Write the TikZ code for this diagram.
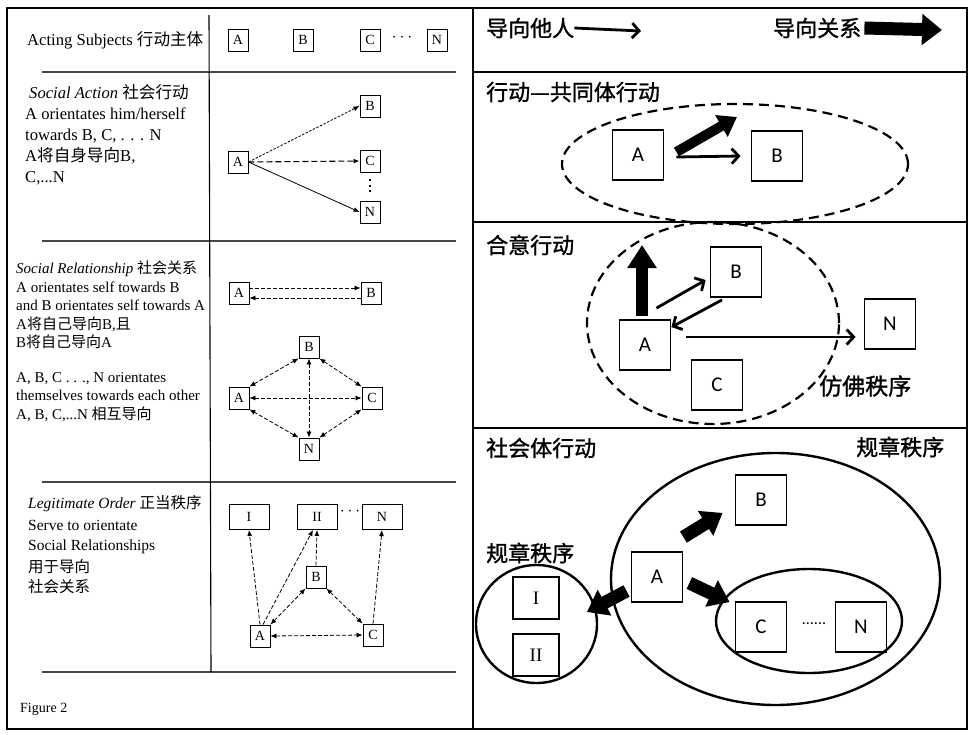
\documentclass[tikz,border=0pt]{standalone}
\usepackage{fontspec}
\setmainfont{Liberation Serif}
\newfontfamily\cjk{Noto Sans CJK SC}
\newfontfamily\cjkb[FakeBold=1.2]{Noto Sans CJK SC}
\newfontfamily\cali{Carlito}
\usetikzlibrary{arrows.meta}

\tikzset{
  lbox/.style={draw,line width=0.9pt,minimum width=20pt,minimum height=22pt,inner sep=0pt,
    font=\fontsize{14}{14}\selectfont},
  wbox/.style={lbox,minimum width=40pt,minimum height=25pt},
  rbox/.style={draw,line width=1.8pt,minimum width=51pt,minimum height=50pt,inner sep=0pt,
    font=\cali\fontsize{21}{21}\selectfont},
  nbox/.style={rbox,minimum width=46pt,minimum height=42pt,font=\fontsize{19}{19}\selectfont},
  ltext/.style={anchor=north west,inner sep=0pt,align=left,font=\fontsize{15.5}{20}\selectfont},
  rtext/.style={anchor=west,inner sep=0pt,font=\cjkb\fontsize{22}{22}\selectfont},
  ddots/.style={inner sep=0pt,font=\fontsize{18}{18}\selectfont},
  darr/.style={line width=0.8pt,dash pattern=on 4pt off 2pt,-{Latex[length=6pt,width=5pt]}},
  dbarr/.style={darr,{Latex[length=6pt,width=5pt]}-{Latex[length=6pt,width=5pt]}},
  tharr/.style={line width=2.8pt,-{Straight Barb[length=7pt,width=15pt]}},
  fatarr/.style={line width=11pt,-{Triangle[length=20pt,width=28pt]}},
  gline/.style={gray!55!black,line width=1.4pt},
  dring/.style={line width=2.2pt,dash pattern=on 10pt off 6pt},
  ring/.style={line width=2.4pt},
}

\begin{document}
\begin{tikzpicture}[x=1pt,y=-1pt]
\fill[white] (0,0) rectangle (974,734);
\useasboundingbox (0,0) rectangle (974,734);

% Çerçeve
\draw[line width=2pt] (7,8) rectangle (967,729);
\draw[line width=2pt] (473,8) -- (473,729);
\draw[line width=1.6pt] (473,72) -- (967,72) (473,222) -- (967,222) (473,428) -- (967,428);

% Sol panel: çizgiler
\draw[gline] (42,72) -- (456,72) (42,241) -- (456,241) (42,482) -- (456,482) (42,672) -- (456,672);
\draw[line width=1.1pt] (209,15) -- (211,672);

% Acting Subjects
\node[ltext,anchor=west,font=\fontsize{16.6}{20}\selectfont] (tHead) at (27,40) {Acting Subjects {\cjk 行动主体}};
\node[lbox] (hA) at (238,40) {A};
\node[lbox] (hB) at (303,40) {B};
\node[lbox] (hC) at (370,40) {C};
\node[ddots] (hDots) at (402,38) {$\cdots$};
\node[lbox] (hN) at (437,40) {N};

% Social Action
\node[ltext,font=\fontsize{16.6}{21}\selectfont] (tSA) at (25,84) {\hspace*{4pt}\textit{Social Action} {\cjk 社会行动}\\
A orientates him/herself\\ towards B, C, . . . N\\ A{\cjk 将自身导向}B,\\ C,...N};
\node[lbox] (saA) at (238,162) {A};
\node[lbox] (saB) at (370,106) {B};
\node[lbox] (saC) at (370,161) {C};
\node[lbox] (saN) at (370,212) {N};
\draw[darr,dash pattern=on 2.5pt off 1.5pt] (saA.east) -- (saB.west);
\draw[darr,line width=1.1pt,dash pattern=on 6pt off 3pt] (saA.east) -- (saC.west);
\draw[darr,solid] (saA.east) -- (saN.west);
\draw[line width=1.8pt,dash pattern=on 1.8pt off 3.6pt] ([yshift=-7pt]saC.south) -- ([yshift=5pt]saN.north);

% Social Relationship
\node[ltext,font=\fontsize{15}{18.5}\selectfont] (tSR) at (16,261) {\textit{Social Relationship} {\cjk 社会关系}\\
A orientates self towards B\\ and B orientates self towards A\\ A{\cjk 将自己导向}B,{\cjk 且}\\ B{\cjk 将自己导向}A\\[16pt]
A, B, C . . ., N orientates\\ themselves towards each other\\ A, B, C,...N {\cjk 相互导向}};
\node[lbox] (srA) at (239,293) {A};
\node[lbox] (srB) at (371,293) {B};
\draw[darr] ([yshift=5pt]srA.east) -- ([yshift=5pt]srB.west);
\draw[darr] ([yshift=-5pt]srB.west) -- ([yshift=-5pt]srA.east);

\node[lbox] (dB) at (309,347) {B};
\node[lbox] (dA) at (239,398) {A};
\node[lbox] (dC) at (372,398) {C};
\node[lbox] (dN) at (309,449) {N};
\draw[dbarr] (dA.north east) -- (dB.south west);
\draw[dbarr] (dB.south east) -- (dC.north west);
\draw[dbarr] (dC.south west) -- (dN.north east);
\draw[dbarr] (dN.north west) -- (dA.south east);
\draw[dbarr] (dA.east) -- (dC.west);
\draw[dbarr] (dB.south) -- (dN.north);

% Legitimate Order
\node[ltext,font=\fontsize{15.5}{20}\selectfont] (tLO) at (28,495) {\textit{Legitimate Order} {\cjk 正当秩序}\\[2pt]
Serve to orientate\\ Social Relationships\\[2pt] {\cjk 用于导向}\\ {\cjk 社会关系}};
\node[wbox] (loI) at (249,517) {I};
\node[wbox] (loII) at (317,517) {II};
\node[ddots] (loDots) at (350,512) {$\cdots$};
\node[wbox] (loN) at (382,517) {N};
\node[lbox] (loB) at (316,577) {B};
\node[lbox] (loA) at (260,636) {A};
\node[lbox] (loC) at (373,635) {C};
\draw[darr] (loA.north) -- (loI.south);
\draw[darr] ([xshift=3pt]loA.north) -- ([xshift=-4pt]loII.south);
\draw[darr] (loB.north) -- (loII.south);
\draw[darr] (loC.north) -- (loN.south);
\draw[dbarr] (loA.north east) -- (loB.south west);
\draw[dbarr] (loB.south east) -- (loC.north west);
\draw[dbarr] (loA.east) -- (loC.west);

\node[ltext,anchor=west,font=\fontsize{14}{14}\selectfont] (tFig) at (20,709) {Figure 2};

% Sağ panel: lejant
\node[rtext] (lgA) at (486,28) {导向他人};
\coordinate (lgAe) at (641,31);
\draw[tharr] (lgA.east) -- (lgAe);
\node[rtext] (lgB) at (773,28) {导向关系};
\coordinate (lgBe) at (942,30);
\draw[fatarr,line width=13pt,-{Triangle[length=20pt,width=30pt]}] ([xshift=3pt]lgB.east) -- (lgBe);

% 行动—共同体行动
\node[rtext] (tCA) at (486,92) {行动—共同体行动};
\draw[dring] (735,164) ellipse [x radius=173pt,y radius=60pt];
\node[rbox] (caA) at (638,155) {A};
\node[rbox] (caB) at (777,156) {B};
\coordinate (caF) at (737,117);
\draw[fatarr,line width=10pt,-{Triangle[length=18pt,width=24pt]}] ([shift={(12pt,3pt)}]caA.east) -- (caF);
\draw[tharr] ([shift={(12pt,-2pt)}]caA.east) -- ([xshift=-10pt]caB.west);

% 合意行动
\node[rtext] (tKA) at (486,245) {合意行动};
\draw[dring] (713,323) ellipse [x radius=126pt,y radius=101pt];
\node[rbox] (kA) at (645,345) {A};
\node[rbox] (kB) at (736,272) {B};
\node[rbox] (kC) at (717,385) {C};
\node[rbox] (kN) at (890,324) {N};
\coordinate (kUp) at (642,245);
\draw[fatarr,line width=12pt,-{Triangle[length=23pt,width=28pt]}] ([shift={(-3pt,3pt)}]kA.north) -- (kUp);
\draw[tharr] ([shift={(-15pt,11pt)}]kA.north east) -- ([shift={(-4pt,-8pt)}]kB.west);
\draw[tharr] ([shift={(-14pt,-2pt)}]kB.south) -- ([yshift=-8pt]kA.north east);
\draw[tharr] ([shift={(15pt,8pt)}]kA.east) -- ([shift={(-8pt,-13pt)}]kN.west);
\node[rtext,font=\cjkb\fontsize{23}{23}\selectfont] (tFF) at (819,386) {仿佛秩序};

% 社会体行动
\node[rtext] (tSB) at (486,448) {社会体行动};
\node[rtext] (tGZ1) at (856,447) {规章秩序};
\node[rtext] (tGZ2) at (486,553) {规章秩序};
\draw[ring] (775.5,579) ellipse [x radius=164.5pt,y radius=126pt];
\draw[ring] (809,621) ellipse [x radius=93pt,y radius=52pt];
\draw[ring] (536.5,624) ellipse [x radius=60.5pt,y radius=59pt];
\node[rbox] (gA) at (657,577) {A};
\node[rbox] (gB) at (761,500) {B};
\node[rbox] (gC) at (761,627) {C};
\node[rbox] (gN) at (861,627) {N};
\node[inner sep=0pt,font=\cali\fontsize{16}{16}\selectfont] (gDots) at (814,624) {......};
\node[nbox] (gI) at (536,598) {I};
\node[nbox] (gII) at (536,655) {II};
\draw[fatarr,line width=13pt] ([yshift=14pt]gA.north east) -- ([shift={(-12pt,13pt)}]gB.south west);
\draw[fatarr,line width=13pt] ([shift={(6pt,-6pt)}]gA.east) -- ([shift={(-5pt,-1pt)}]gC.north west);
\draw[fatarr,line width=13pt] ([shift={(-4pt,-14pt)}]gA.west) -- ([shift={(27pt,-14pt)}]gI.east);

\end{tikzpicture}
\end{document}
